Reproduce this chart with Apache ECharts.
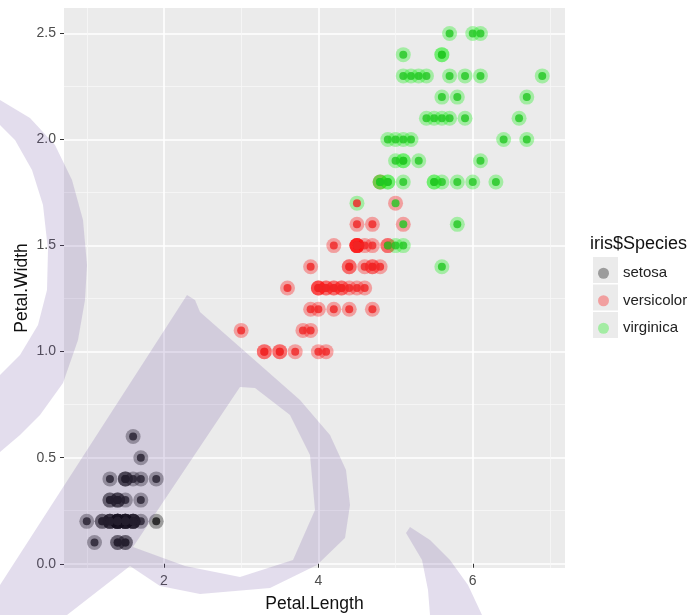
<!DOCTYPE html>
<html>
<head>
<meta charset="utf-8">
<script src="https://cdn.jsdelivr.net/npm/echarts@6/dist/echarts.min.js"></script>
<style>
html,body{margin:0;padding:0;background:#fff;}
#chart{width:691px;height:615px;}
</style>
</head>
<body>
<div id="chart"></div>
<script>
// ---- data (iris petal measurements) ----
const species = ['setosa', 'versicolor', 'virginica'];

const setosaLength = [1.4,1.4,1.3,1.5,1.4,1.7,1.4,1.5,1.4,1.5,1.5,1.6,1.4,1.1,1.2,1.5,1.3,1.4,1.7,1.5,1.7,1.5,1.0,1.7,1.9,1.6,1.6,1.5,1.4,1.6,1.6,1.5,1.5,1.4,1.5,1.2,1.3,1.4,1.3,1.5,1.3,1.3,1.3,1.6,1.9,1.4,1.6,1.4,1.5,1.4];
const setosaWidth  = [0.2,0.2,0.2,0.2,0.2,0.4,0.3,0.2,0.2,0.1,0.2,0.2,0.1,0.1,0.2,0.4,0.4,0.3,0.3,0.3,0.2,0.4,0.2,0.5,0.2,0.2,0.4,0.2,0.2,0.2,0.2,0.4,0.1,0.2,0.2,0.2,0.2,0.1,0.2,0.2,0.3,0.3,0.2,0.6,0.4,0.3,0.2,0.2,0.2,0.2];

const versicolorLength = [4.7,4.5,4.9,4.0,4.6,4.5,4.7,3.3,4.6,3.9,3.5,4.2,4.0,4.7,3.6,4.4,4.5,4.1,4.5,3.9,4.8,4.0,4.9,4.7,4.3,4.4,4.8,5.0,4.5,3.5,3.8,3.7,3.9,5.1,4.5,4.5,4.7,4.4,4.1,4.0,4.4,4.6,4.0,3.3,4.2,4.2,4.2,4.3,3.0,4.1];
const versicolorWidth  = [1.4,1.5,1.5,1.3,1.5,1.3,1.6,1.0,1.3,1.4,1.0,1.5,1.0,1.4,1.3,1.4,1.5,1.0,1.5,1.1,1.8,1.3,1.5,1.2,1.3,1.4,1.4,1.7,1.5,1.0,1.1,1.0,1.2,1.6,1.5,1.6,1.5,1.3,1.3,1.3,1.2,1.4,1.2,1.0,1.3,1.2,1.3,1.3,1.1,1.3];

const virginicaLength = [6.0,5.1,5.9,5.6,5.8,6.6,4.5,6.3,5.8,6.1,5.1,5.3,5.5,5.0,5.1,5.3,5.5,6.7,6.9,5.0,5.7,4.9,6.7,4.9,5.7,6.0,4.8,4.9,5.6,5.8,6.1,6.4,5.6,5.1,5.6,6.1,5.6,5.5,4.8,5.4,5.6,5.1,5.1,5.9,5.7,5.2,5.0,5.2,5.4,5.1];
const virginicaWidth  = [2.5,1.9,2.1,1.8,2.2,2.1,1.7,1.8,1.8,2.5,2.0,1.9,2.1,2.0,2.4,2.3,1.8,2.2,2.3,1.5,2.3,2.0,2.0,1.8,2.1,1.8,1.8,1.8,2.1,1.6,1.9,2.0,2.2,1.5,1.4,2.3,2.4,1.8,1.8,2.1,2.4,2.3,1.9,2.3,2.5,2.3,1.9,2.0,2.3,1.8];

// inner-dot class per point (a few points carry the other colour)
const setosaInner     = setosaLength.map(() => 'setosa');
const versicolorSwitched = [2, 20, 27, 33];   // versicolor points whose inner dot is green
const virginicaSwitched  = [6];               // virginica point whose inner dot is red
const versicolorInner = versicolorLength.map((v, i) => versicolorSwitched.includes(i) ? 'virginica' : 'versicolor');
const virginicaInner  = virginicaLength.map((v, i) => virginicaSwitched.includes(i) ? 'versicolor' : 'virginica');

const xTicks = [2, 4, 6];
const xMinor = [1, 3, 5, 7];
const yTicks = [0, 0.5, 1.0, 1.5, 2.0, 2.5];
const yMinor = [0.25, 0.75, 1.25, 1.75, 2.25];

// ---- styling ----
const haloColor  = { setosa: 'rgba(0,0,0,0.42)', versicolor: 'rgba(255,0,0,0.4)', virginica: 'rgba(0,240,0,0.38)' };
const innerColor = { setosa: '#141414', versicolor: '#f02424', virginica: '#22c722' };

const lengths = { setosa: setosaLength, versicolor: versicolorLength, virginica: virginicaLength };
const widths  = { setosa: setosaWidth,  versicolor: versicolorWidth,  virginica: virginicaWidth };
const inners  = { setosa: setosaInner,  versicolor: versicolorInner,  virginica: virginicaInner };

const series = [];
species.forEach(sp => {
  series.push({
    name: sp, type: 'scatter', symbol: 'circle', symbolSize: 15,
    itemStyle: { color: haloColor[sp] },
    data: lengths[sp].map((x, i) => [x, widths[sp][i]]),
    silent: true, z: 2
  });
});
species.forEach(cls => {
  const pts = [];
  species.forEach(sp => {
    lengths[sp].forEach((x, i) => { if (inners[sp][i] === cls) pts.push([x, widths[sp][i]]); });
  });
  series.push({
    name: cls, type: 'scatter', symbol: 'circle', symbolSize: 8,
    itemStyle: { color: innerColor[cls] },
    data: pts, silent: true, z: 3
  });
});

const wm = 'rgba(105,75,160,0.19)';
const crescent = [[0,100],[30,118],[55,145],[72,180],[83,220],[87,265],[85,300],[78,340],[63,383],[40,415],[20,435],[0,452],
                  [0,375],[20,355],[38,325],[47,290],[48,250],[43,205],[32,170],[15,140],[0,125]];
const drop = [[187,295],[195,300],[200,312],[250,356],[300,400],[330,435],[346,470],[350,505],[345,538],[317,565],[270,588],[200,594],[160,586],[130,566],
              [133,547],[185,566],[240,577],[293,560],[315,510],[310,455],[290,415],[255,388],[240,387],[133,547],
              [130,566],[67,615],[0,615],[0,585]];
const tail = [[410,527],[430,540],[450,560],[468,585],[482,615],[430,615],[428,590],[422,560],[406,533]];

const chart = echarts.init(document.getElementById('chart'), null, { renderer: 'canvas' });
chart.setOption({
  animation: false,
  backgroundColor: '#ffffff',
  textStyle: { fontFamily: 'Liberation Sans, Arial, sans-serif' },
  title: {
    text: 'iris$Species', left: 585, top: 230, padding: [5, 5, 5, 5],
    textStyle: { fontSize: 18, fontWeight: 'normal', color: '#111', fontFamily: 'Liberation Sans' }
  },
  legend: {
    data: species, orient: 'vertical', left: 593, top: 260,
    itemWidth: 25, itemHeight: 11, itemGap: 11, icon: 'circle',
    textStyle: { fontSize: 15, color: '#222', lineHeight: 16.5, fontFamily: 'Liberation Sans', padding: [0, 0, 0, 2] },
    selectedMode: false, z: 10
  },
  grid: [
    { left: 64, right: 126, top: 8, bottom: 47, show: true, backgroundColor: '#ebebeb', borderWidth: 0,
      containLabel: false, outerBoundsMode: 'none' }
  ],
  xAxis: [
    {
      type: 'value', min: 0.705, max: 7.195, position: 'bottom',
      name: 'Petal.Length', nameLocation: 'middle', nameGap: 27,
      nameTextStyle: { fontSize: 17.5, color: '#111' },
      axisLine: { show: false },
      axisTick: { show: true, length: 4, lineStyle: { color: '#333' }, customValues: xTicks },
      axisLabel: { color: '#4d4d4d', fontSize: 14, margin: 6, customValues: xTicks },
      splitLine: { show: true, lineStyle: { color: '#ffffff', width: 1.6 } }
    },
    {
      type: 'value', min: 0.705, max: 7.195, position: 'top',
      axisLine: { show: false }, axisTick: { show: false, customValues: xMinor },
      axisLabel: { show: false, customValues: xMinor },
      splitLine: { show: true, lineStyle: { color: '#f7f7f7', width: 0.8 } }
    }
  ],
  yAxis: [
    {
      type: 'value', min: -0.02, max: 2.62, position: 'left',
      name: 'Petal.Width', nameLocation: 'middle', nameGap: 33, nameRotate: 90, nameMoveOverlap: false,
      nameTextStyle: { fontSize: 17.5, color: '#111' },
      axisLine: { show: false },
      axisTick: { show: true, length: 4, lineStyle: { color: '#333' }, customValues: yTicks },
      axisLabel: { color: '#4d4d4d', fontSize: 14, margin: 8, customValues: yTicks, formatter: v => v.toFixed(1) },
      splitLine: { show: true, lineStyle: { color: '#ffffff', width: 1.6 } }
    },
    {
      type: 'value', min: -0.02, max: 2.62, position: 'right',
      axisLine: { show: false }, axisTick: { show: false, customValues: yMinor },
      axisLabel: { show: false, customValues: yMinor },
      splitLine: { show: true, lineStyle: { color: '#f7f7f7', width: 0.8 } }
    }
  ],
  graphic: [
    { type: 'rect', shape: { x: 593, y: 257, width: 25, height: 26 }, style: { fill: '#ebebeb' }, z: 1, silent: true },
    { type: 'rect', shape: { x: 593, y: 284.5, width: 25, height: 26 }, style: { fill: '#ebebeb' }, z: 1, silent: true },
    { type: 'rect', shape: { x: 593, y: 312, width: 25, height: 26 }, style: { fill: '#ebebeb' }, z: 1, silent: true },
    { type: 'polygon', z: 100, silent: true, shape: { points: crescent }, style: { fill: wm } },
    { type: 'polygon', z: 100, silent: true, shape: { points: drop }, style: { fill: wm } },
    { type: 'polygon', z: 100, silent: true, shape: { points: tail }, style: { fill: wm } }
  ],
  series: series
});
</script>
</body>
</html>
